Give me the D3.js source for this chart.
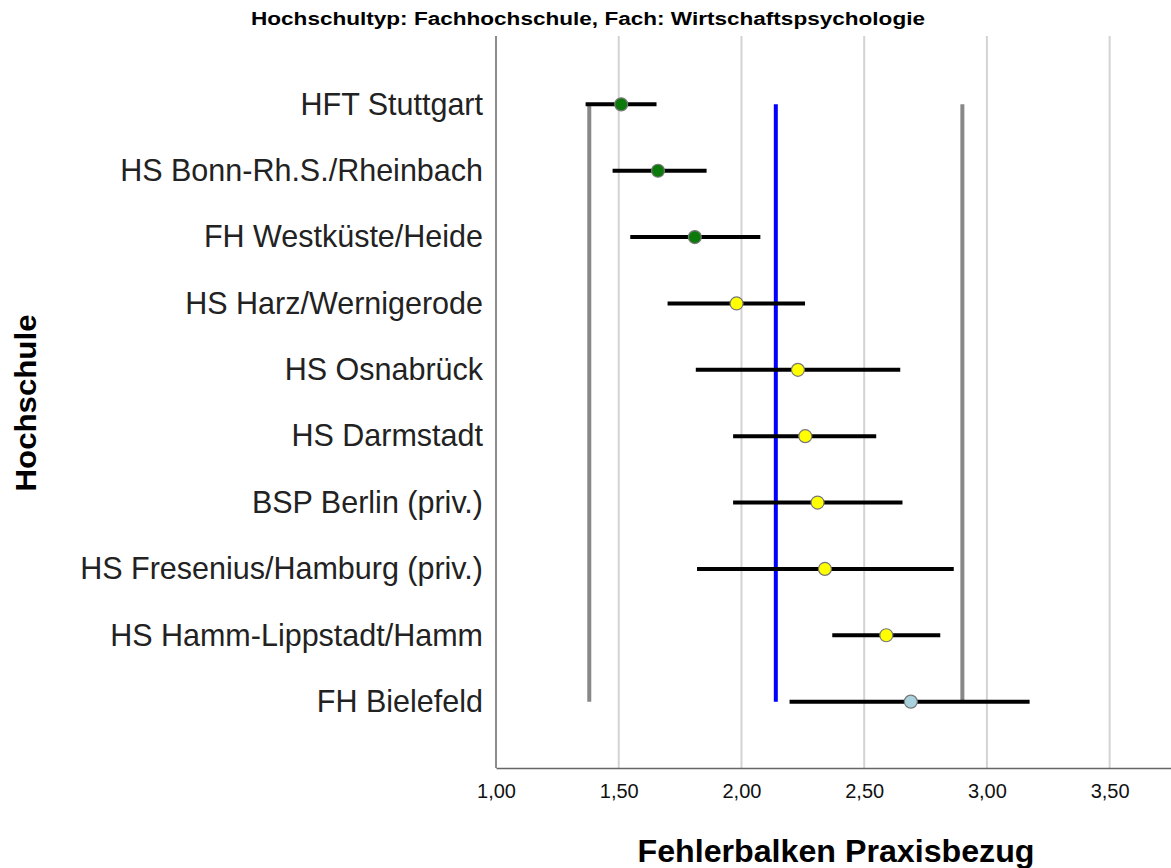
<!DOCTYPE html>
<html><head><meta charset="utf-8">
<script src="https://cdn.jsdelivr.net/npm/d3@7"></script>
<style>body{margin:0;background:#fff}svg{display:block}</style>
</head><body><svg id="c" width="1171" height="868"></svg>
<script>
const categories = ["HFT Stuttgart","HS Bonn-Rh.S./Rheinbach","FH Westküste/Heide","HS Harz/Wernigerode","HS Osnabrück","HS Darmstadt","BSP Berlin (priv.)","HS Fresenius/Hamburg (priv.)","HS Hamm-Lippstadt/Hamm","FH Bielefeld"];
const means = [1.51,1.66,1.81,1.98,2.23,2.26,2.31,2.34,2.59,2.69];
const lower = [1.365,1.475,1.547,1.699,1.814,1.966,1.966,1.819,2.37,2.196];
const upper = [1.654,1.858,2.077,2.259,2.647,2.549,2.656,2.865,2.81,3.174];
const groups = ["green","green","green","yellow","yellow","yellow","yellow","yellow","yellow","lightblue"];
const refLow = 1.38, refMean = 2.14, refHigh = 2.90;
const xTicks = [1.0,1.5,2.0,2.5,3.0,3.5];
const colorMap = {green:"#0b7a0b", yellow:"#ffff00", lightblue:"#a9d2de"};

const FONT = "Liberation Sans, Arial, sans-serif";
const svg = d3.select("#c");
const x = d3.scaleLinear().domain([1, 3.75]).range([496, 1171]);
const y = d3.scalePoint().domain(categories).range([38, 768]).padding(1);

// gridlines
svg.append("g").selectAll("line").data(xTicks.slice(1)).join("line")
  .attr("x1", d=>x(d)).attr("x2", d=>x(d)).attr("y1", 36).attr("y2", 768)
  .attr("stroke", "#d3d3d3").attr("stroke-width", 2);

// axes
const xa = svg.append("g").attr("transform","translate(0,768)")
  .call(d3.axisBottom(x).tickValues(xTicks).tickSize(0).tickPadding(16)
    .tickFormat(d=>d3.format(".2f")(d).replace(".",",")));
xa.select(".domain").attr("stroke","#666").attr("stroke-width",1.5);
xa.selectAll("text").attr("font-family",FONT).attr("font-size",20).attr("fill","#111");

const ya = svg.append("g").attr("transform","translate(496,0)")
  .call(d3.axisLeft(y).tickSize(0).tickPadding(13));
ya.select(".domain").attr("d","M0,36V768").attr("stroke","#666").attr("stroke-width",1.5);
ya.selectAll("text").attr("font-family",FONT).attr("font-size",30.5).attr("fill","#222");

// reference lines
const yTop = y(categories[0]), yBot = y(categories[categories.length-1]);
[[refLow,"#888"],[refHigh,"#888"],[refMean,"#0000ff"]].forEach(([v,c])=>{
  svg.append("line").attr("x1",x(v)).attr("x2",x(v)).attr("y1",yTop).attr("y2",yBot)
    .attr("stroke",c).attr("stroke-width",4);
});

// error bars
svg.append("g").selectAll("line").data(categories).join("line")
  .attr("x1",(d,i)=>x(lower[i])).attr("x2",(d,i)=>x(upper[i]))
  .attr("y1",d=>y(d)).attr("y2",d=>y(d))
  .attr("stroke","#000").attr("stroke-width",4);

// points
svg.append("g").selectAll("circle").data(categories).join("circle")
  .attr("cx",(d,i)=>x(means[i])).attr("cy",d=>y(d)).attr("r",6.5)
  .attr("fill",(d,i)=>colorMap[groups[i]]).attr("stroke","#777").attr("stroke-width",1.2);

// titles
svg.append("text").attr("x",588).attr("y",25).attr("text-anchor","middle")
  .attr("font-family",FONT).attr("font-weight","bold").attr("font-size",18)
  .attr("textLength",674).attr("lengthAdjust","spacingAndGlyphs")
  .text("Hochschultyp: Fachhochschule, Fach: Wirtschaftspsychologie");

svg.append("text").attr("x",836).attr("y",862).attr("text-anchor","middle")
  .attr("font-family",FONT).attr("font-weight","bold").attr("font-size",32)
  .attr("textLength",397).attr("lengthAdjust","spacingAndGlyphs")
  .text("Fehlerbalken Praxisbezug");

svg.append("text").attr("transform","translate(36,403) rotate(-90)").attr("text-anchor","middle")
  .attr("font-family",FONT).attr("font-weight","bold").attr("font-size",30)
  .attr("textLength",177).attr("lengthAdjust","spacingAndGlyphs")
  .text("Hochschule");
</script></body></html>
